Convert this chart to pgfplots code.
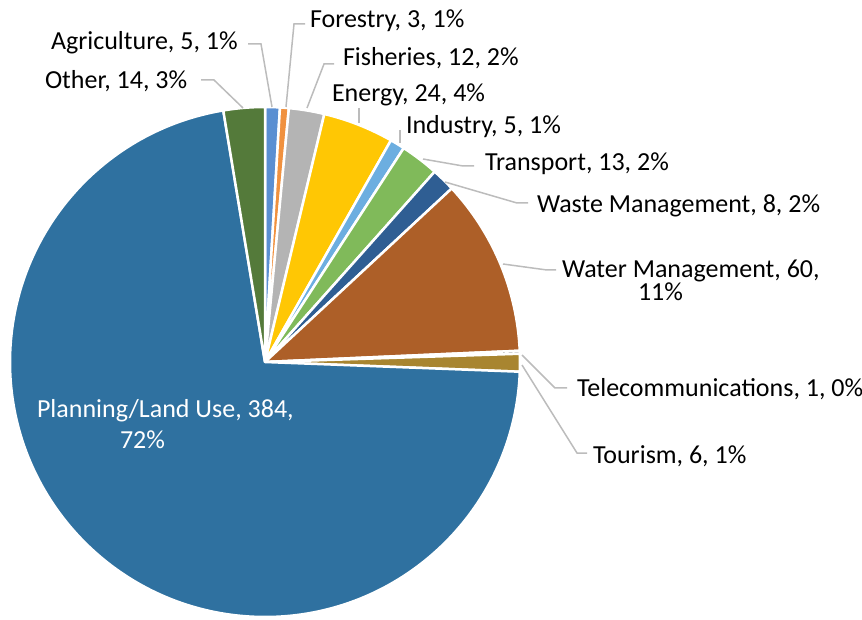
\documentclass[border=0pt]{standalone}
\usepackage{pgfplots}
\pgfplotsset{compat=1.18}
\usepackage{pgfplotstable}
\usepackage{fontspec}
\setmainfont{Carlito}

% slice colours, in table order
\definecolor{c0}{HTML}{5A8FD2}
\definecolor{c1}{HTML}{F0913F}
\definecolor{c2}{HTML}{B4B4B4}
\definecolor{c3}{HTML}{FFC704}
\definecolor{c4}{HTML}{6CAEE0}
\definecolor{c5}{HTML}{80BA5A}
\definecolor{c6}{HTML}{2F5E93}
\definecolor{c7}{HTML}{AD5F28}
\definecolor{c8}{HTML}{6B6B6B}
\definecolor{c9}{HTML}{A88530}
\definecolor{c10}{HTML}{2F71A0}
\definecolor{c11}{HTML}{547A3A}
\definecolor{leader}{HTML}{BCBCBC}

\pgfplotstableread[col sep=comma]{
name,value
Agriculture,5
Forestry,3
Fisheries,12
Energy,24
Industry,5
Transport,13
Waste Management,8
Water Management,60
Telecommunications,1
Tourism,6
Planning/Land Use,384
Other,14
}\piedata

\tikzset{lbl/.style={font=\fontsize{26}{30}\selectfont, inner sep=0pt, outer sep=0pt, anchor=base west}}

\begin{document}
\begin{tikzpicture}
% total and start/end angle of each slice (clockwise from 12 o'clock)
\xdef\total{0}
\foreach \i in {0,...,11}{%
  \pgfplotstablegetelem{\i}{value}\of\piedata
  \pgfmathparse{\total+\pgfplotsretval}\xdef\total{\pgfmathresult}}
\xdef\cum{0}
\foreach \i in {0,...,11}{%
  \pgfplotstablegetelem{\i}{value}\of\piedata
  \let\v\pgfplotsretval
  \pgfmathparse{90-\cum/\total*360}\expandafter\xdef\csname sa\i\endcsname{\pgfmathresult}
  \pgfmathparse{\cum+\v}\xdef\cum{\pgfmathresult}
  \pgfmathparse{90-\cum/\total*360}\expandafter\xdef\csname ea\i\endcsname{\pgfmathresult}}

\begin{axis}[
  x=1pt, y=1pt,
  xmin=0, xmax=862, ymin=0, ymax=619,
  hide axis, clip=false,
]
  \pgfplotsinvokeforeach{0,...,11}{%
    \edef\temp{\noexpand\fill[c#1, draw=white, line width=2.5pt, line join=round]
      (axis cs:265,257) -- ++(\csname sa#1\endcsname:255pt)
      arc[start angle=\csname sa#1\endcsname, end angle=\csname ea#1\endcsname, radius=255pt] -- cycle;}%
    \temp
  }

  % leader lines
  \begin{scope}[draw=leader, line width=1.5pt]
    \draw (axis cs:248,575) -- (axis cs:261,575) -- (axis cs:272,512);
    \draw (axis cs:305,595) -- (axis cs:294,595) -- (axis cs:286,512);
    \draw (axis cs:201,539) -- (axis cs:214,539) -- (axis cs:243,511);
    \draw (axis cs:334,555) -- (axis cs:324,555) -- (axis cs:307,511);
    \draw (axis cs:359,511) -- (axis cs:359,496);
    \draw (axis cs:400,489) -- (axis cs:400,476);
    \draw (axis cs:474,453) -- (axis cs:463,453) -- (axis cs:423,460);
    \draw (axis cs:528,416) -- (axis cs:517,416) -- (axis cs:445,437);
    \draw (axis cs:556,349) -- (axis cs:547,349) -- (axis cs:503,355);
    \draw (axis cs:567,231) -- (axis cs:555,231) -- (axis cs:522,264);
    \draw (axis cs:587,166) -- (axis cs:577,166) -- (axis cs:522,254);
  \end{scope}

  % data labels
  \node[lbl] at (axis cs:310,591) {Forestry, 3, 1\%};
  \node[lbl] at (axis cs:51,569) {Agriculture, 5, 1\%};
  \node[lbl] at (axis cs:45,530) {Other, 14, 3\%};
  \node[lbl] at (axis cs:343,553) {Fisheries, 12, 2\%};
  \node[lbl] at (axis cs:332,517) {Energy, 24, 4\%};
  \node[lbl] at (axis cs:406,485) {Industry, 5, 1\%};
  \node[lbl] at (axis cs:485,448) {Transport, 13, 2\%};
  \node[lbl] at (axis cs:537,406) {Waste Management, 8, 2\%};
  \node[lbl] at (axis cs:562,341) {Water Management, 60,};
  \node[lbl] at (axis cs:638,318) {11\%};
  \node[lbl] at (axis cs:577,222) {Telecommunications, 1, 0\%};
  \node[lbl] at (axis cs:593,156) {Tourism, 6, 1\%};
  \node[lbl, text=white] at (axis cs:37,201) {Planning/Land Use, 384,};
  \node[lbl, text=white] at (axis cs:120,171) {72\%};

  \coordinate (BL) at (axis cs:0,0);
  \coordinate (TR) at (axis cs:862,619);
\end{axis}
\pgfresetboundingbox
\path (BL) rectangle (TR);
\end{tikzpicture}
\end{document}
